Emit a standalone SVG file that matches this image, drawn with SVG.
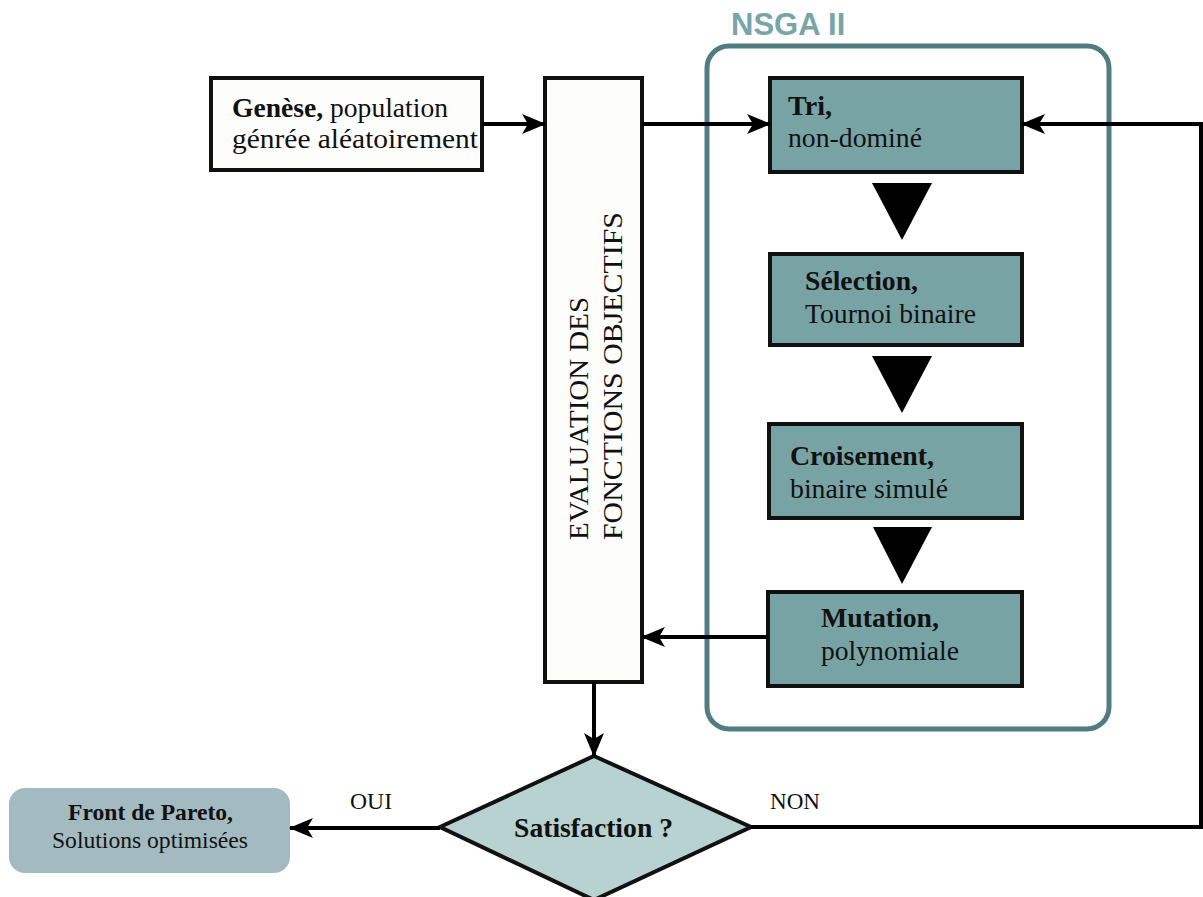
<svg xmlns="http://www.w3.org/2000/svg" width="1203" height="897" viewBox="0 0 1203 897">
<style>
.t{font-family:"Liberation Serif","Times New Roman",serif;font-size:28px;fill:#111}
.s{font-size:24px}
.b{font-weight:bold}
.box{stroke:#111;stroke-width:4}
.teal{fill:#78a3a5}
.white{fill:#fdfdfb}
.ln{fill:none;stroke:#000;stroke-width:4}
.tri{fill:#000}
</style>
<defs>
<marker id="ah" viewBox="0 0 24 20" refX="23" refY="10" markerWidth="24" markerHeight="20" markerUnits="userSpaceOnUse" orient="auto">
<path d="M0,0 L24,10 L0,20 L6,10 Z" fill="#000"/>
</marker>
</defs>
<rect width="1203" height="897" fill="#fff"/>
<g id="nsga">
<rect x="707" y="46" width="402" height="683" rx="22" fill="none" stroke="#517c82" stroke-width="5"/>
<text x="731" y="35" style="font-family:'Liberation Sans',Arial,sans-serif;font-weight:bold;font-size:31px;fill:#78a5a8">NSGA II</text>
</g>
<g id="genese">
<rect class="box white" x="211" y="78" width="271" height="92"/>
<text class="t" x="232" y="117" textLength="216" lengthAdjust="spacingAndGlyphs"><tspan class="b">Genèse,</tspan> population</text>
<text class="t" x="232" y="148" textLength="246" lengthAdjust="spacingAndGlyphs">génrée aléatoirement</text>
</g>
<g id="evaluation">
<rect class="box white" x="545" y="78" width="97" height="604"/>
<text class="t" transform="translate(588,540) rotate(-90)" style="font-size:27px" textLength="243" lengthAdjust="spacingAndGlyphs">EVALUATION DES</text>
<text class="t" transform="translate(622,540) rotate(-90)" style="font-size:27px" textLength="328" lengthAdjust="spacingAndGlyphs">FONCTIONS OBJECTIFS</text>
</g>
<g id="tri">
<rect class="box teal" x="770" y="78" width="252" height="94"/>
<text class="t b" x="788" y="115" textLength="44" lengthAdjust="spacingAndGlyphs">Tri,</text>
<text class="t" x="788" y="147" textLength="134" lengthAdjust="spacingAndGlyphs">non-dominé</text>
</g>
<g id="selection">
<rect class="box teal" x="770" y="254" width="252" height="91"/>
<text class="t b" x="805" y="290" textLength="113" lengthAdjust="spacingAndGlyphs">Sélection,</text>
<text class="t" x="805" y="323" textLength="171" lengthAdjust="spacingAndGlyphs">Tournoi binaire</text>
</g>
<g id="croisement">
<rect class="box teal" x="769" y="424" width="253" height="94"/>
<text class="t b" x="790" y="465" textLength="144" lengthAdjust="spacingAndGlyphs">Croisement,</text>
<text class="t" x="790" y="498" textLength="158" lengthAdjust="spacingAndGlyphs">binaire simulé</text>
</g>
<g id="mutation">
<rect class="box teal" x="768" y="592" width="254" height="94"/>
<text class="t b" x="821" y="627" textLength="118" lengthAdjust="spacingAndGlyphs">Mutation,</text>
<text class="t" x="821" y="660" textLength="138" lengthAdjust="spacingAndGlyphs">polynomiale</text>
</g>
<g id="satisfaction">
<path d="M594,756 L751,827 L594,900 L440,827 Z" fill="#b8d1d1" stroke="#111" stroke-width="4"/>
<text class="t b" x="514" y="837" textLength="159" lengthAdjust="spacingAndGlyphs">Satisfaction ?</text>
</g>
<g id="pareto">
<rect x="9" y="788" width="281" height="85" rx="16" fill="#a3bac0"/>
<text class="t b s" x="68" y="820" textLength="165" lengthAdjust="spacingAndGlyphs">Front de Pareto,</text>
<text class="t s" x="52" y="848" textLength="196" lengthAdjust="spacingAndGlyphs">Solutions optimisées</text>
</g>
<g id="connectors">
<line class="ln" x1="482" y1="124" x2="545" y2="124" marker-end="url(#ah)"/>
<line class="ln" x1="642" y1="124" x2="770" y2="124" marker-end="url(#ah)"/>
<polygon class="tri" points="872,183 932,183 902,240"/>
<polygon class="tri" points="872,356 932,356 902,413"/>
<polygon class="tri" points="873,527 932,527 902,584"/>
<line class="ln" x1="768" y1="637" x2="642" y2="637" marker-end="url(#ah)"/>
<line class="ln" x1="594" y1="682" x2="594" y2="756" marker-end="url(#ah)"/>
<line class="ln" x1="440" y1="828" x2="290" y2="828" marker-end="url(#ah)"/>
<polyline class="ln" points="751,827 1201,827 1201,124 1022,124" marker-end="url(#ah)"/>
<text class="t s" x="350" y="809" textLength="42" lengthAdjust="spacingAndGlyphs">OUI</text>
<text class="t s" x="770" y="809" textLength="50" lengthAdjust="spacingAndGlyphs">NON</text>
</g>
</svg>
